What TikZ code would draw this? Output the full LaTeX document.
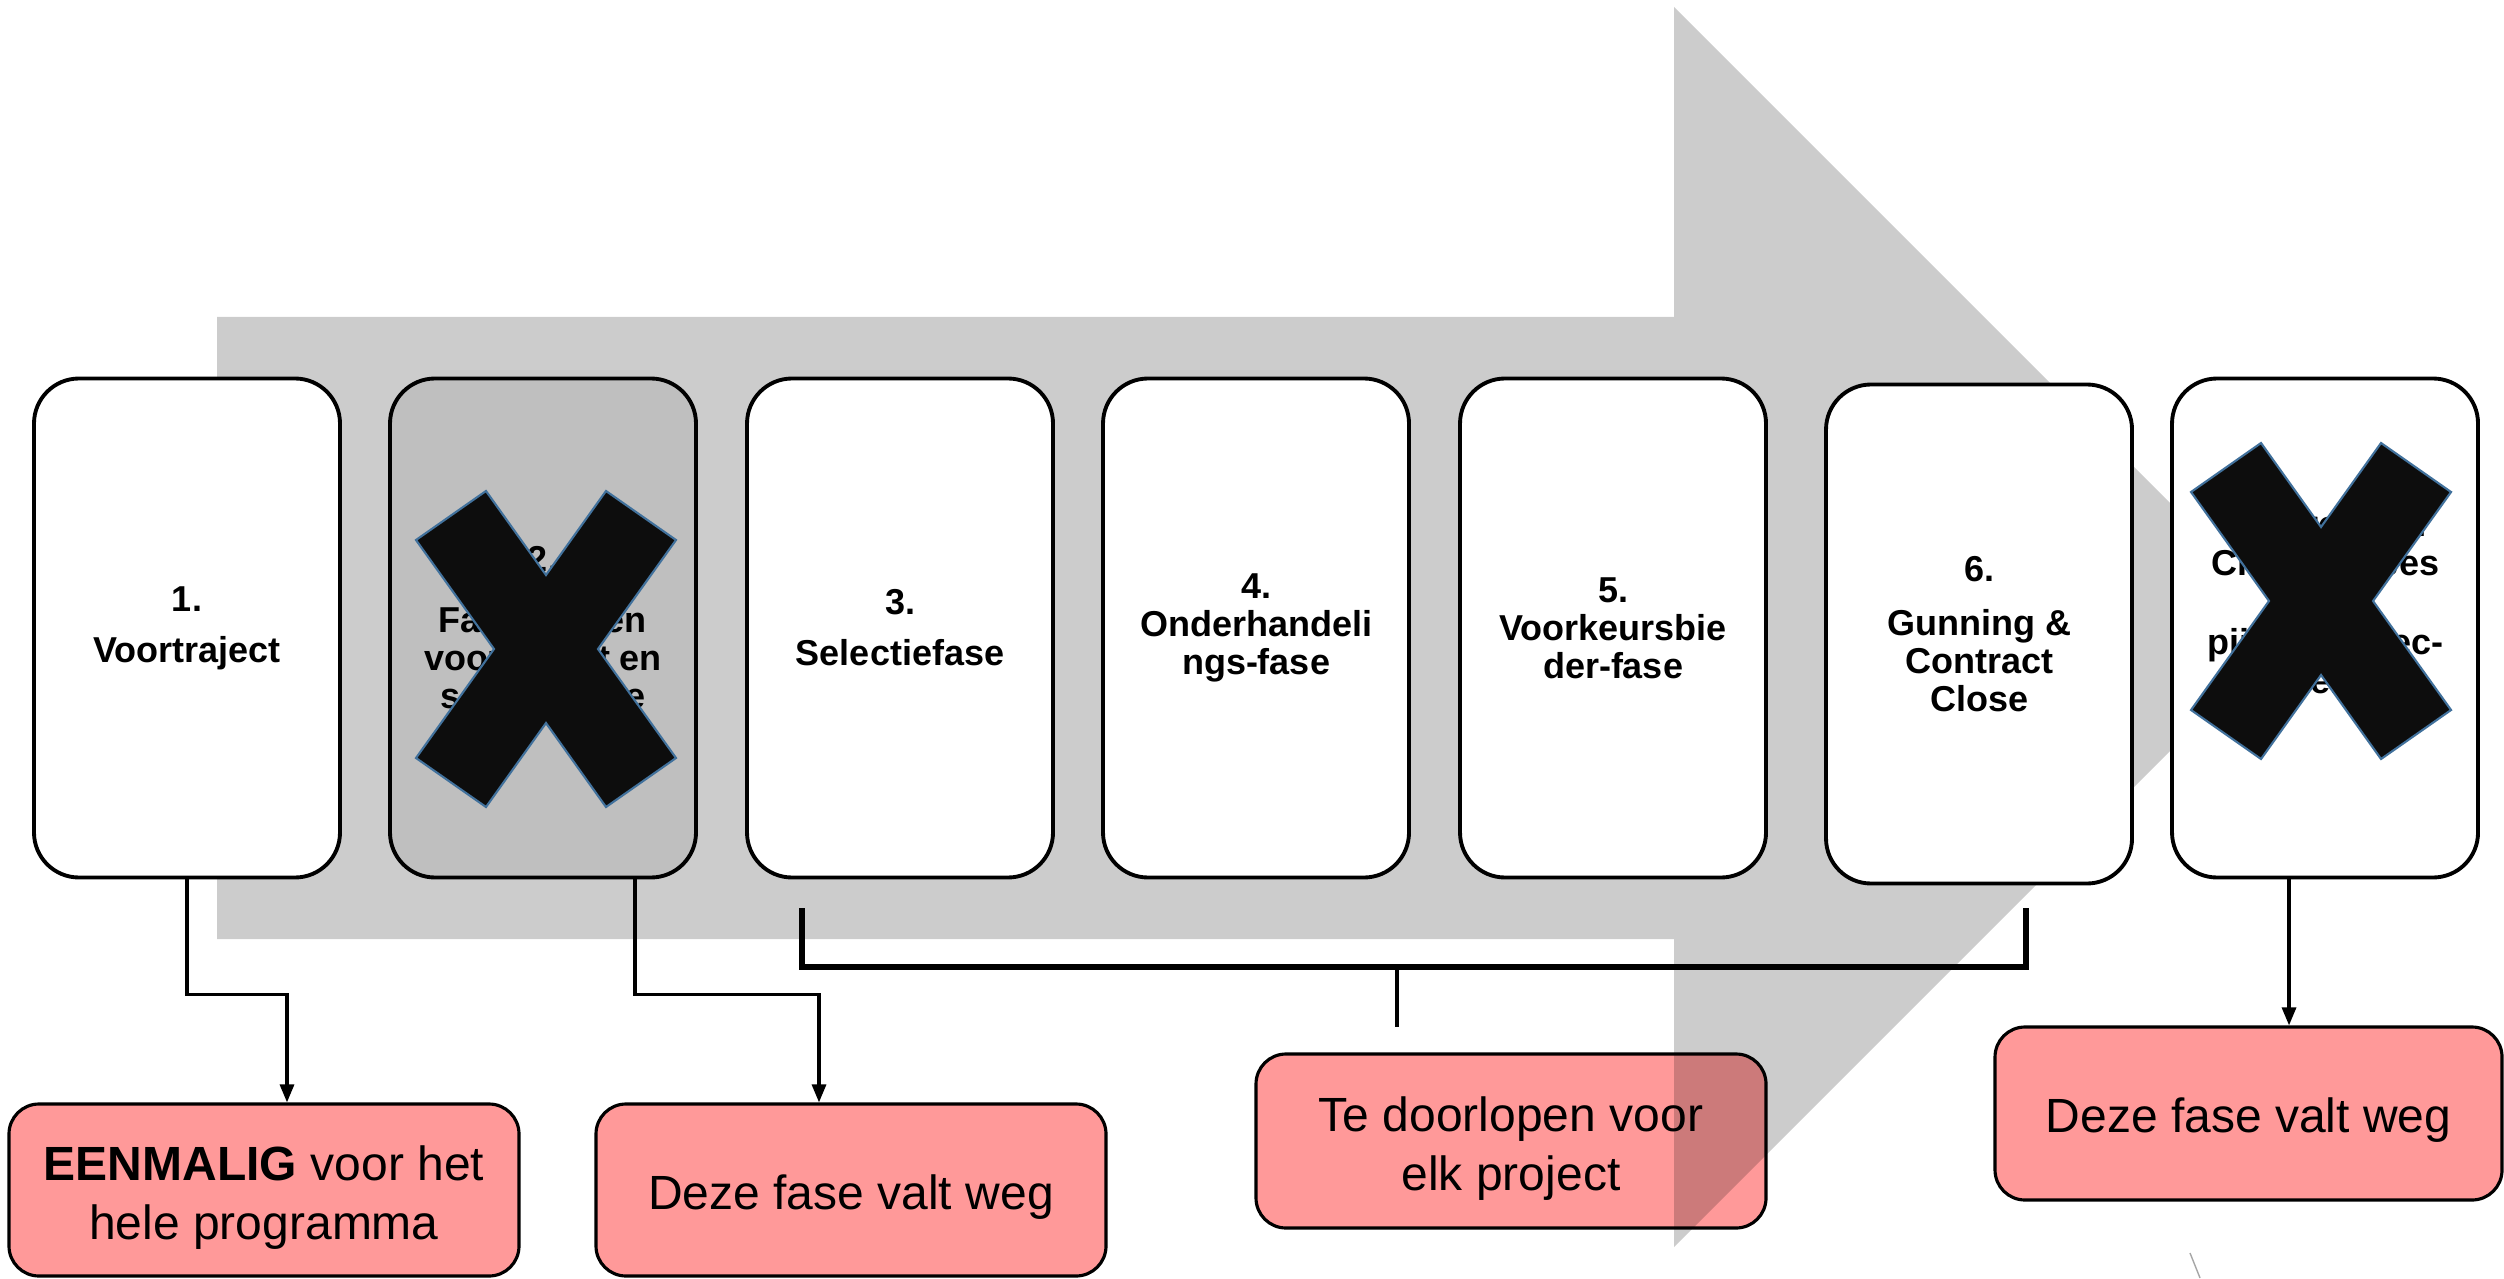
\documentclass[tikz,border=0pt]{standalone}
\usepackage{fontspec}
\setmainfont{Liberation Sans}
\usepackage{xcolor}
\usetikzlibrary{positioning,arrows.meta,calc}
\definecolor{tpink}{HTML}{FF9999}
\definecolor{tdrop}{HTML}{BFBFBF}
\definecolor{tink}{HTML}{0D0D0D}
\definecolor{tedge}{HTML}{41719C}

\begin{document}
\begin{tikzpicture}[
  phase/.style={draw, line width=1.1pt, rounded corners=0.45cm, fill=white, minimum width=3.06cm, minimum height=4.99cm, align=center, inner sep=0pt, font=\bfseries\fontsize{10.24}{10.8}\selectfont},
  dropped/.style={phase, fill=tdrop},
  phasetext/.style={align=center, inner sep=0pt, font=\bfseries\fontsize{10.24}{11.2}\selectfont},
  note/.style={draw, line width=0.9pt, rounded corners=0.3cm, fill=tpink, minimum width=5.10cm, minimum height=1.72cm, inner sep=0pt},
  notetext/.style={align=center, inner sep=0pt, font=\fontsize{13.66}{16.8}\selectfont},
  conn/.style={line width=0.9pt, -{Triangle[length=0.18cm, width=0.14cm]}},
  bracket/.style={line width=1.5pt},
  xmark/.pic={\filldraw[fill=tink, draw=tedge, line width=0.6pt, line join=miter]
    (-1.30,1.09) -- (-0.60,1.58) -- (0,0.74) -- (0.60,1.58) -- (1.30,1.09) -- (0.52,0) --
    (1.30,-1.09) -- (0.60,-1.58) -- (0,-0.74) -- (-0.60,-1.58) -- (-1.30,-1.09) -- (-0.52,0) -- cycle;}]
\useasboundingbox (0,0) rectangle (25.04,12.78);
% outcome notes (below the big arrow)
\node[note] (R1) at (2.64,0.88) {};
\node[note] (R2) at (8.51,0.88) {};
\node[note, minimum height=1.74cm] (R3) at (15.11,1.37) {};
\node[note, minimum width=5.07cm, minimum height=1.73cm] (R4) at (22.485,1.645) {};
\node[notetext] (R1t) at ([yshift=-0.08cm]R1.center) {\textbf{EENMALIG} voor het\\hele programma};
\node[notetext] (R2t) at ([yshift=-0.07cm]R2.center) {Deze fase valt weg};
\node[notetext] (R3t) at ([yshift=-0.08cm]R3.center) {Te doorlopen voor\\elk project};
\node[notetext] (R4t) at ([yshift=-0.07cm]R4.center) {Deze fase valt weg};
% big process arrow (translucent, so R3 shows through)
\fill[black, fill opacity=0.2] (2.17,9.61) -- (16.74,9.61) -- (16.74,12.71) -- (22.94,6.51)
  -- (16.74,0.31) -- (16.74,3.39) -- (2.17,3.39) -- cycle;
% phases
\node[phase] (B1) at (1.87,6.50) {1.\\[0.13cm]Voortraject};
\node[dropped] (B2) at (5.43,6.50) {2.\\[0.23cm]Fase tussen\\voortraject en\\selectiefase};
\node[phase] (B3) at (9.00,6.50) {3.\\[0.13cm]Selectiefase};
\node[phase] (B4) at (12.56,6.50) {4.\\Onderhandeli\\ngs-fase};
\node[phase] (B5) at (16.13,6.50) {5.\\Voorkeursbie\\der-fase};
\node[phase] (B6) at (19.79,6.44) {6.\\[0.16cm]Gunning \&\\Contract\\Close};
\node[phase] (B7) at (23.25,6.50) {};
\node[phasetext] (B7t) at (23.25,6.76) {7. Afronden\\Cluster-fases\\en\\pijplijnprojec-\\ten};
% struck-out phases
\pic at (5.46,6.29) {xmark};
\pic at (23.21,6.77) {xmark};
% connectors
\draw[conn] (B1.south) -- ++(0,-1.15) -| ([xshift=0.23cm]R1.north);
\draw[conn] ([xshift=0.92cm]B2.south) -- ++(0,-1.15) -| ([xshift=-0.32cm]R2.north);
\draw[conn] ([xshift=-0.36cm]B7.south) -- ([xshift=-0.36cm]B7.south |- R4.north);
% bracket over phases 3--6
\coordinate (brL) at (8.02,3.70);
\coordinate (brR) at (20.26,3.70);
\coordinate (brM) at (13.97,3.11);
\draw[bracket] (brL) -- (brL |- brM) -- (brR |- brM) -- (brR);
\draw[line width=1.3pt] (brM) -- ++(0,-0.60);
% stray stroke at the bottom edge
\draw[gray!70, line width=0.4pt] (21.90,0.25) -- (22.00,0);
\end{tikzpicture}
\end{document}
